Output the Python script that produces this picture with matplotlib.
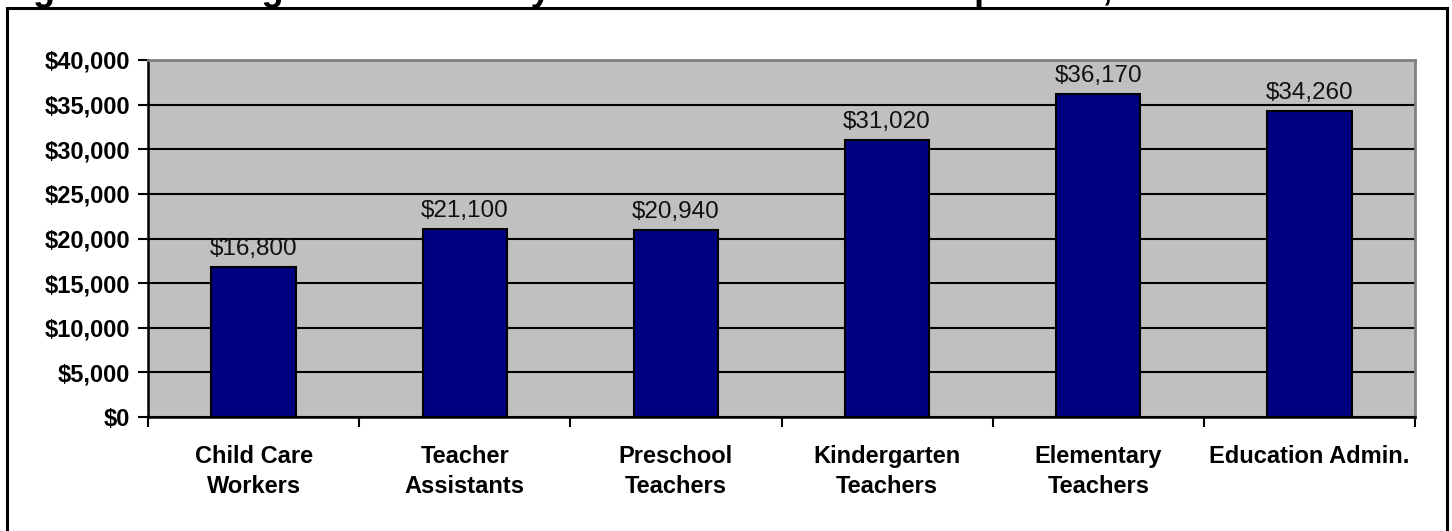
import matplotlib
matplotlib.use("Agg")
import matplotlib.pyplot as plt
from matplotlib.patches import Rectangle
from matplotlib.ticker import FuncFormatter, FixedLocator
import numpy as np

# data
occupations = ["Child Care\nWorkers", "Teacher\nAssistants", "Preschool\nTeachers",
               "Kindergarten\nTeachers", "Elementary\nTeachers", "Education Admin."]
salaries = [16800, 21100, 20940, 31020, 36170, 34260]
title = "Figure 4: Average Annual Yearly Salaries for Select Occupations, 1999"

plt.rcParams['font.family'] = ['Liberation Sans', 'DejaVu Sans']

W, H = 1452, 531
fig = plt.figure(figsize=(W / 100, H / 100), dpi=100)
ax = fig.add_axes([148 / W, 1 - 417 / H, (1415 - 148) / W, (417 - 60) / H])

# outer frame (bottom edge falls outside the picture)
fig.add_artist(Rectangle((7 / W, -0.1), (1447 - 7) / W, 1.1 - 8 / H,
                         transform=fig.transFigure, fill=False,
                         edgecolor="black", linewidth=2.2))

# title, cut off by the top of the picture like in the source
fig.text(1 / W, 1 + 0.5 / H, title, fontsize=26, fontweight="bold",
         va="baseline", ha="left")

x = np.arange(len(salaries))
ax.set_facecolor("#C0C0C0")
bars = ax.bar(x, salaries, width=0.4, color="#000080", edgecolor="black",
              linewidth=1.5, zorder=3)

for xi, v in zip(x, salaries):
    ax.annotate("${:,}".format(v), (xi, v), xytext=(0, 5), textcoords="offset points",
                ha="center", va="bottom", fontsize=17.5, color="#111111")

ax.set_xlim(-0.5, len(salaries) - 0.5)
ax.set_ylim(0, 40000)
ax.set_yticks(np.arange(0, 40001, 5000))
ax.yaxis.set_major_formatter(FuncFormatter(lambda v, p: "${:,.0f}".format(v)))
ax.grid(axis="y", color="black", linewidth=1.5, zorder=1)
ax.set_axisbelow(True)

# categories sit between boundary ticks
ax.set_xticks(np.arange(-0.5, len(salaries), 1.0))
ax.set_xticklabels([])
ax.xaxis.set_minor_locator(FixedLocator(x))
ax.set_xticklabels(occupations, minor=True, fontsize=17, fontweight="bold",
                   linespacing=1.4)
ax.tick_params(axis="x", which="minor", length=0, pad=20)
ax.tick_params(axis="x", which="major", length=7, width=1.5, direction="out")
ax.tick_params(axis="y", length=7, width=1.5, direction="out", pad=6)
for lab in ax.get_yticklabels():
    lab.set_fontsize(17)
    lab.set_fontweight("bold")

for s in ["left", "bottom"]:
    ax.spines[s].set_color("black")
    ax.spines[s].set_linewidth(1.8)
for s in ["top", "right"]:
    ax.spines[s].set_color("#808080")
    ax.spines[s].set_linewidth(2)

fig.savefig("out.png", dpi=100)
